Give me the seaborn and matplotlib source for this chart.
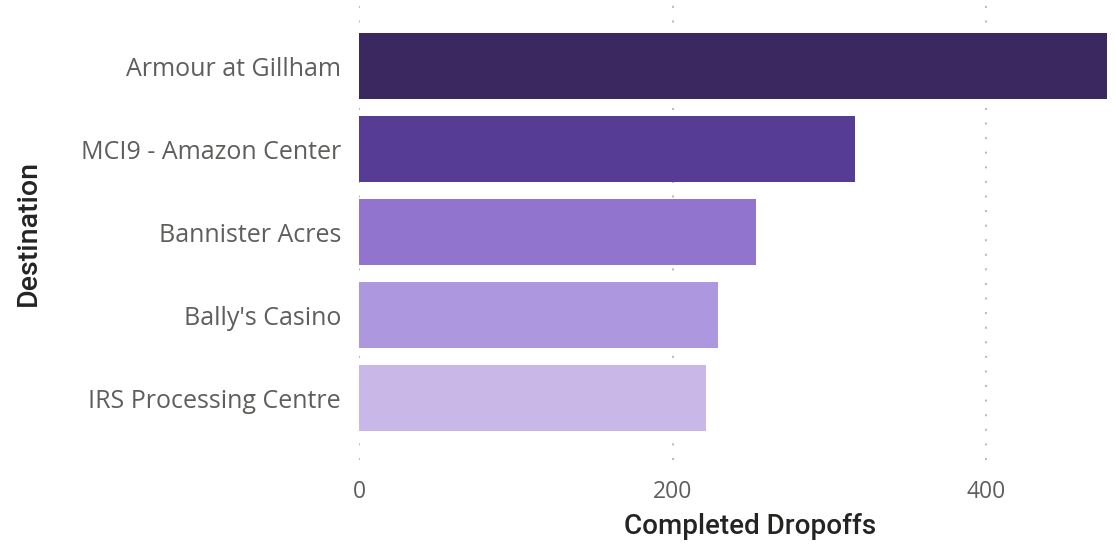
import matplotlib
matplotlib.use("Agg")
import matplotlib.pyplot as plt
import seaborn as sns
import pandas as pd

# ===== DATA =====
DESTINATIONS = ["Armour at Gillham", "MCI9 - Amazon Center", "Bannister Acres",
                "Bally's Casino", "IRS Processing Centre"]
DROPOFFS = [477, 316, 253, 229, 221]
BAR_COLORS = ["#3B2860", "#573C95", "#9174CE", "#AD97DE", "#C9B8E7"]
X_TICKS = [0, 200, 400]


def plot_results():
    df = pd.DataFrame({"Destination": DESTINATIONS, "Completed Dropoffs": DROPOFFS})

    sns.set_theme(style="white")
    fig, ax = plt.subplots(figsize=(11.17, 5.48), dpi=100)

    sns.barplot(data=df, x="Completed Dropoffs", y="Destination", hue="Destination",
                palette=BAR_COLORS, order=DESTINATIONS, hue_order=DESTINATIONS,
                width=0.79, legend=False, ax=ax, saturation=1, linewidth=0, zorder=2)

    # dotted vertical gridlines
    for xt in X_TICKS:
        ax.axvline(xt, color="#BDBDBD", linestyle=(0, (1, 6)), linewidth=1.5, zorder=1)

    ax.set_xlim(0, max(DROPOFFS))
    ax.set_ylim(4.75, -0.73)
    ax.set_xticks(X_TICKS)
    ax.tick_params(axis="both", length=0)
    ax.tick_params(axis="y", pad=13)
    ax.tick_params(axis="x", pad=14)
    for lab in ax.get_yticklabels():
        lab.set_fontfamily("Open Sans")
        lab.set_color("#605E5C")
        lab.set_fontsize(18)
    for lab in ax.get_xticklabels():
        lab.set_fontfamily("Open Sans")
        lab.set_color("#605E5C")
        lab.set_fontsize(16.5)

    ax.set_xlabel("Completed Dropoffs", fontfamily="Roboto", fontweight="medium",
                  fontsize=20, color="#252423")
    ax.set_ylabel("Destination", fontfamily="Roboto", fontweight="medium",
                  fontsize=20.5, color="#252423")
    ax.xaxis.set_label_coords(0.523, -0.116)
    ax.yaxis.set_label_coords(-0.424, 0.5)

    sns.despine(ax=ax, left=True, bottom=True)
    fig.subplots_adjust(left=0.3215, right=0.991, top=0.99, bottom=0.16)
    fig.savefig("out.png", dpi=100)


if __name__ == "__main__":
    plot_results()
